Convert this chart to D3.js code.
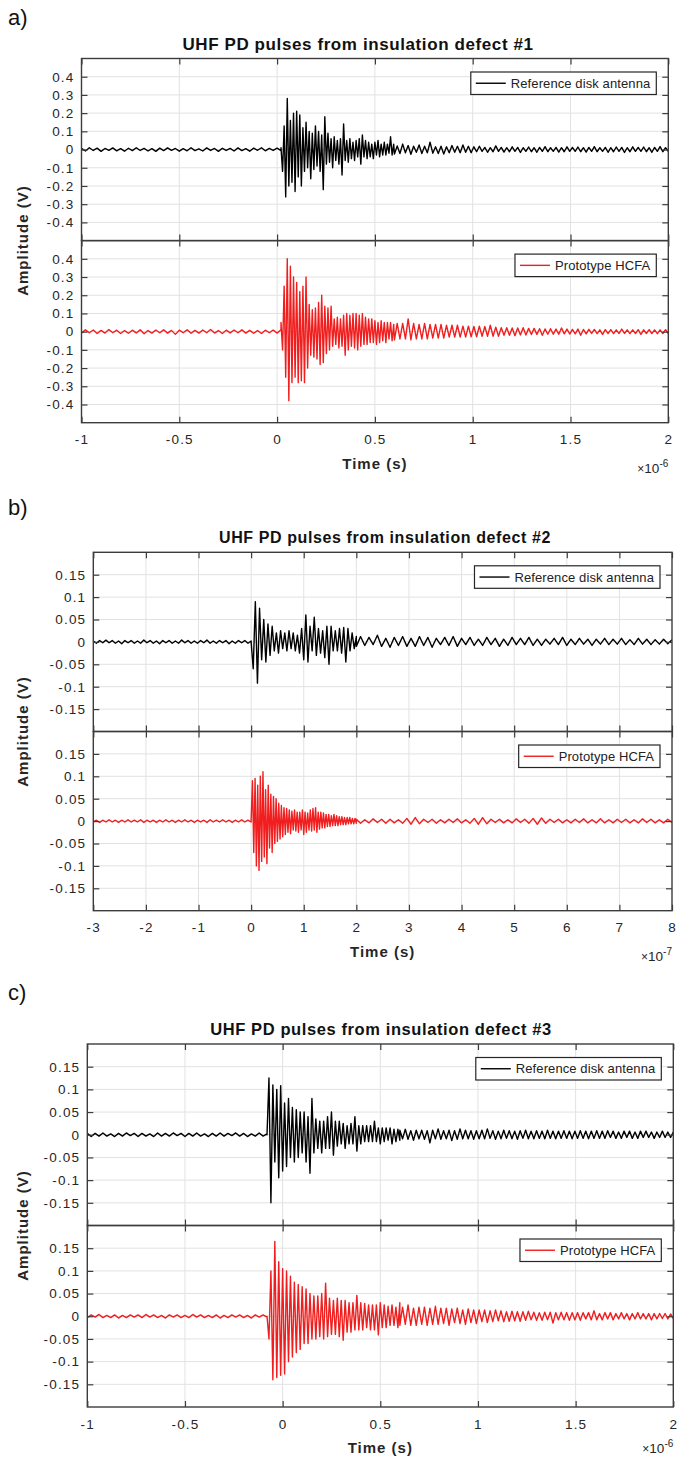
<!DOCTYPE html>
<html lang="en">
<head>
<meta charset="UTF-8">
<script src="https://d3js.org/d3.v7.min.js"></script>
<title>UHF PD pulses from insulation defects</title>
<style>
  body { margin: 0; background: #fff; }
  svg { display: block; }
  text { font-family: "Liberation Sans", Arial, Helvetica, sans-serif; }
</style>
</head>
<body>
<script>
// ---------- tick values ----------
const aTicksX = [-1, -0.5, 0, 0.5, 1, 1.5, 2];          // x 1e-6 s
const aTicksY = [-0.4, -0.3, -0.2, -0.1, 0, 0.1, 0.2, 0.3, 0.4];
const bTicksX = [-3, -2, -1, 0, 1, 2, 3, 4, 5, 6, 7, 8]; // x 1e-7 s
const bTicksY = [-0.15, -0.1, -0.05, 0, 0.05, 0.1, 0.15];
const cTicksX = [-1, -0.5, 0, 0.5, 1, 1.5, 2];          // x 1e-6 s
const cTicksY = [-0.15, -0.1, -0.05, 0, 0.05, 0.1, 0.15];

// ---------- sampling of each record: start time and step of the three parts (noise, burst, tail) ----------
const aStart = [-1, 0.02, 0.6], aStep = [0.02, 0.008, 0.014];
const bStart = [-3, 0, 2], bRefStep = [0.06, 0.04, 0.08], bHcfaStep = [0.06, 0.025, 0.08];
const cStart = [-1, -0.08, 0.6], cStep = [0.02, 0.01, 0.014];

// ---------- defect #1 (V) ----------
const ref1Noise = [0.006,-0.008,0.01,-0.005,0.008,-0.01,0.006,-0.004,0.009,-0.007,
  0.005,-0.009,0.007,-0.006,0.01,-0.005,0.006,-0.008,0.005,-0.01,
  0.008,-0.006,0.009,-0.004,0.006,-0.009,0.005,-0.007,0.01,-0.006,
  0.004,-0.008,0.009,-0.005,0.006,-0.01,0.007,-0.005,0.006,-0.008,
  0.009,-0.006,0.005,-0.009,0.008,-0.004,0.01,-0.007,0.006,-0.005,
  0.008,-0.006];
const ref1Burst = [0.01,-0.12,0.13,-0.26,0.28,-0.2,0.16,-0.18,0.2,-0.23,
  0.21,-0.15,0.19,-0.2,0.12,-0.12,0.15,-0.1,0.1,-0.16,
  0.09,-0.11,0.13,-0.09,0.1,-0.12,0.08,-0.22,0.18,-0.08,
  0.09,-0.07,0.06,-0.1,0.07,-0.06,0.05,-0.08,0.06,-0.14,
  0.14,-0.06,0.05,-0.07,0.06,-0.05,0.04,-0.06,0.05,-0.04,
  0.06,-0.08,0.08,-0.04,0.05,-0.05,0.04,-0.04,0.03,-0.05,
  0.04,-0.03,0.05,-0.04,0.03,-0.03,0.04,-0.03,0.03,-0.02,
  0.07,-0.03,0.03];
const ref1Tail = [-0.025,0.02,-0.022,0.03,-0.018,0.022,-0.026,0.018,-0.015,0.025,
  -0.022,0.018,-0.018,0.04,-0.02,0.015,-0.022,0.018,-0.025,0.015,
  -0.018,0.022,-0.015,0.018,-0.018,0.025,-0.015,0.018,-0.018,
  0.015,-0.012,0.018,-0.01,0.012,-0.015,0.01,-0.012,0.02,-0.01,
  0.012,-0.014,0.01,-0.012,0.015,-0.01,0.012,-0.016,0.01,-0.01,
  0.014,-0.012,0.01,-0.015,0.012,-0.01,0.016,-0.012,0.01,-0.01,
  0.012,-0.014,0.01,-0.012,0.015,-0.01,0.012,-0.01,0.014,-0.012,
  0.01,-0.014,0.012,-0.01,0.016,-0.012,0.01,-0.01,0.012,-0.015,
  0.01,-0.012,0.014,-0.01,0.012,-0.016,0.01,-0.012,0.015,-0.01,
  0.012,-0.01,0.014,-0.012,0.01,-0.015,0.012,-0.01,0.016,-0.012,
  0.01,-0.01];
const hcfa1Noise = [-0.008,0.01,-0.006,0.009,-0.01,0.007,-0.008,0.012,-0.006,0.008,
  -0.01,0.006,-0.009,0.008,-0.007,0.01,-0.012,0.006,-0.008,0.009,
  -0.006,0.01,-0.008,0.007,-0.015,0.008,-0.006,0.01,-0.009,0.007,
  -0.008,0.009,-0.006,0.012,-0.008,0.006,-0.01,0.008,-0.007,0.009,
  -0.006,0.01,-0.008,0.007,-0.009,0.006,-0.01,0.008,-0.006,0.009,
  -0.008,0.01];
const hcfa1Burst = [0.05,-0.1,0.25,-0.25,0.4,-0.38,0.36,-0.28,0.3,-0.25,
  0.27,-0.28,0.22,-0.27,0.25,-0.28,0.3,-0.2,0.15,-0.13,
  0.12,-0.14,0.13,-0.15,0.16,-0.18,0.2,-0.17,0.14,-0.12,
  0.13,-0.1,0.14,-0.08,0.07,-0.07,0.08,-0.09,0.07,-0.08,
  0.09,-0.13,0.1,-0.1,0.09,-0.08,0.1,-0.09,0.1,-0.1,
  0.09,-0.08,0.1,-0.07,0.08,-0.07,0.07,-0.06,0.07,-0.06,
  0.06,-0.07,0.05,-0.06,0.06,-0.05,0.05,-0.06,0.05,-0.04,
  0.05,-0.05,0.04];
const hcfa1Tail = [-0.045,0.045,-0.04,0.045,-0.04,0.07,-0.045,0.045,-0.04,0.04,
  -0.04,0.045,-0.04,0.04,-0.035,0.04,-0.035,0.04,-0.035,0.035,
  -0.03,0.035,-0.03,0.035,-0.03,0.03,-0.03,0.03,-0.028,0.028,
  -0.028,0.03,-0.025,0.028,-0.025,0.035,-0.025,0.025,-0.025,0.022,
  -0.02,0.022,-0.02,0.02,-0.022,0.02,-0.018,0.022,-0.018,0.018,
  -0.016,0.018,-0.015,0.016,-0.02,0.015,-0.014,0.016,-0.014,0.014,
  -0.014,0.02,-0.012,0.014,-0.013,0.012,-0.012,0.014,-0.02,0.012,
  -0.012,0.013,-0.01,0.012,-0.011,0.01,-0.015,0.011,-0.01,0.011,
  -0.011,0.01,-0.01,0.014,-0.01,0.01,-0.011,0.01,-0.01,0.011,
  -0.015,0.01,-0.01,0.011,-0.01,0.01,-0.011,0.01,-0.01,0.011,
  -0.01];

// ---------- defect #2 (V) ----------
const ref2Noise = [0.002,-0.003,0.003,-0.002,0.004,-0.002,0.003,-0.003,0.002,-0.004,
  0.003,-0.002,0.003,-0.003,0.002,-0.003,0.004,-0.002,0.003,-0.003,
  0.002,-0.004,0.003,-0.002,0.003,-0.003,0.002,-0.003,0.004,-0.002,
  0.003,-0.003,0.002,-0.003,0.003,-0.002,0.004,-0.003,0.002,-0.003,
  0.003,-0.002,0.003,-0.004,0.002,-0.003,0.003,-0.002,0.003,-0.003,
  0.002];
const ref2Burst = [0,-0.06,0.09,-0.092,0.075,-0.04,0.05,-0.045,0.04,-0.03,
  0.035,-0.02,0.02,-0.025,0.025,-0.015,0.02,-0.02,0.025,-0.015,
  0.02,-0.02,0.015,-0.025,0.03,-0.04,0.06,-0.045,0.035,-0.02,
  0.055,-0.03,0.03,-0.025,0.025,-0.035,0.035,-0.05,0.035,-0.02,
  0.025,-0.02,0.03,-0.025,0.032,-0.045,0.03,-0.02,0.02,-0.015,
  0.012];
const ref2Tail = [-0.01,0.012,-0.008,0.01,-0.006,0.015,-0.01,0.008,-0.012,0.01,
  -0.008,0.012,-0.01,0.008,-0.01,0.012,-0.008,0.01,-0.012,0.008,
  -0.006,0.01,-0.008,0.012,-0.01,0.008,-0.006,0.01,-0.008,0.006,
  -0.008,0.01,-0.006,0.008,-0.01,0.006,-0.008,0.01,-0.006,0.008,
  -0.006,0.01,-0.008,0.006,-0.008,0.006,-0.005,0.008,-0.006,0.01,
  -0.008,0.006,-0.006,0.008,-0.005,0.006,-0.008,0.006,-0.005,0.008,
  -0.006,0.006,-0.005,0.008,-0.006,0.005,-0.006,0.008,-0.005,0.006,
  -0.006,0.005,-0.005,0.006,-0.004,0.005];
const hcfa2Noise = [-0.002,0.002,-0.003,0.002,-0.002,0.003,-0.002,0.002,-0.003,0.002,
  -0.002,0.003,-0.002,0.002,-0.002,0.003,-0.003,0.002,-0.002,0.002,
  -0.003,0.002,-0.002,0.003,-0.002,0.002,-0.003,0.002,-0.002,0.003,
  -0.002,0.002,-0.003,0.002,-0.002,0.002,-0.003,0.003,-0.002,0.002,
  -0.002,0.003,-0.002,0.002,-0.003,0.002,-0.002,0.003,-0.002,0.002,
  -0.002];
const hcfa2Burst = [0,0.09,-0.07,0.095,-0.1,0.08,-0.11,0.1,-0.09,0.11,
  -0.08,0.07,-0.095,0.08,-0.06,0.06,-0.07,0.055,-0.05,0.05,
  -0.045,0.04,-0.04,0.035,-0.035,0.03,-0.03,0.028,-0.025,0.025,
  -0.028,0.022,-0.02,0.025,-0.022,0.02,-0.025,0.02,-0.02,0.025,
  -0.03,0.02,-0.025,0.018,-0.02,0.025,-0.022,0.028,-0.02,0.03,
  -0.025,0.02,-0.018,0.02,-0.015,0.018,-0.015,0.015,-0.012,0.015,
  -0.012,0.012,-0.01,0.015,-0.01,0.012,-0.01,0.01,-0.008,0.01,
  -0.008,0.008,-0.008,0.008,-0.006,0.008,-0.006,0.006,-0.006,0.006,
  -0.005];
const hcfa2Tail = [0.004,-0.005,0.003,-0.004,0.005,-0.003,0.004,-0.005,0.004,-0.004,
  0.003,-0.005,0.006,-0.007,0.008,-0.006,0.004,-0.003,0.004,-0.005,
  0.003,-0.004,0.004,-0.003,0.005,-0.004,0.003,-0.005,0.006,-0.007,
  0.008,-0.006,0.004,-0.003,0.004,-0.004,0.003,-0.004,0.005,-0.003,
  0.004,-0.005,0.006,-0.007,0.007,-0.005,0.004,-0.003,0.004,-0.004,
  0.003,-0.004,0.004,-0.003,0.005,-0.004,0.003,-0.004,0.005,-0.004,
  0.003,-0.004,0.004,-0.003,0.004,-0.004,0.003,-0.004,0.005,-0.003,
  0.004,-0.004,0.003,-0.004,0.004,-0.003];

// ---------- defect #3 (V) ----------
const ref3Noise = [0.003,-0.004,0.003,-0.003,0.004,-0.003,0.002,-0.004,0.003,-0.003,
  0.004,-0.002,0.003,-0.004,0.003,-0.003,0.002,-0.004,0.004,-0.003,
  0.003,-0.003,0.004,-0.002,0.003,-0.004,0.003,-0.003,0.004,-0.003,
  0.002,-0.004,0.003,-0.003,0.004,-0.003,0.003,-0.002,0.004,-0.003,
  0.003,-0.004,0.002,-0.003,0.004,-0.003,0.002];
const ref3Burst = [0,0.125,-0.15,0.11,-0.06,0.1,-0.095,0.108,-0.08,0.07,
  -0.07,0.08,-0.05,0.06,-0.06,0.055,-0.05,0.05,-0.04,0.05,
  -0.06,0.04,-0.085,0.08,-0.04,0.035,-0.03,0.03,-0.04,0.03,
  -0.03,0.04,-0.03,0.05,-0.045,0.03,-0.025,0.03,-0.02,0.025,
  -0.03,0.02,-0.02,0.025,-0.02,0.04,-0.036,0.02,-0.02,0.02,
  -0.015,0.02,-0.015,0.02,-0.015,0.03,-0.015,0.015,-0.02,0.015,
  -0.015,0.015,-0.012,0.015,-0.02,0.012,-0.015,0.012,-0.012];
const ref3Tail = [0.01,-0.009,0.012,-0.01,0.009,-0.012,0.01,-0.009,0.01,-0.01,
  0.009,-0.018,0.01,-0.009,0.013,-0.01,0.009,-0.009,0.01,-0.013,
  0.009,-0.01,0.013,-0.009,0.01,-0.009,0.009,-0.01,0.009,-0.009,
  0.01,-0.009,0.013,-0.008,0.009,-0.01,0.008,-0.009,0.01,-0.008,
  0.009,-0.009,0.008,-0.01,0.009,-0.008,0.01,-0.009,0.008,-0.009,
  0.009,-0.008,0.008,-0.009,0.01,-0.008,0.008,-0.009,0.008,-0.008,
  0.009,-0.008,0.008,-0.009,0.008,-0.008,0.009,-0.008,0.008,-0.009,
  0.008,-0.008,0.009,-0.008,0.008,-0.008,0.009,-0.006,0.008,-0.008,
  0.006,-0.008,0.008,-0.006,0.008,-0.008,0.006,-0.008,0.008,-0.006,
  0.008,-0.006,0.006,-0.008,0.006,-0.006,0.008,-0.006,0.006,-0.006,
  0.006];
const hcfa3Noise = [-0.003,0.003,-0.002,0.004,-0.003,0.002,-0.003,0.003,-0.004,0.002,
  -0.003,0.003,-0.002,0.003,-0.003,0.004,-0.002,0.003,-0.003,0.002,
  -0.004,0.003,-0.002,0.003,-0.003,0.002,-0.003,0.004,-0.002,0.003,
  -0.003,0.002,-0.003,0.003,-0.004,0.002,-0.003,0.003,-0.002,0.003,
  -0.003,0.002,-0.004,0.003,-0.002,0.003,-0.002];
const hcfa3Burst = [0,-0.05,0.1,-0.14,0.165,-0.135,0.12,-0.13,0.105,-0.127,
  0.1,-0.1,0.088,-0.09,0.075,-0.08,0.07,-0.073,0.065,-0.06,
  0.06,-0.06,0.05,-0.05,0.045,-0.05,0.045,-0.045,0.05,-0.05,
  0.073,-0.045,0.04,-0.04,0.035,-0.04,0.04,-0.045,0.035,-0.053,
  0.035,-0.035,0.03,-0.035,0.03,-0.03,0.046,-0.03,0.03,-0.03,
  0.028,-0.025,0.025,-0.03,0.025,-0.03,0.025,-0.041,0.03,-0.025,
  0.025,-0.025,0.022,-0.02,0.025,-0.02,0.02,-0.025,0.03];
const hcfa3Tail = [-0.02,0.02,-0.018,0.025,-0.02,0.018,-0.02,0.02,-0.018,0.02,
  -0.02,0.018,-0.018,0.022,-0.018,0.018,-0.016,0.018,-0.02,0.016,
  -0.014,0.018,-0.016,0.014,-0.018,0.016,-0.014,0.014,-0.016,0.014,
  -0.012,0.014,-0.014,0.012,-0.012,0.014,-0.01,0.012,-0.012,0.01,
  -0.011,0.011,-0.01,0.01,-0.011,0.01,-0.009,0.011,-0.008,0.009,
  -0.009,0.008,-0.009,0.009,-0.008,0.009,-0.015,0.008,-0.008,0.009,
  -0.008,0.008,-0.009,0.008,-0.008,0.008,-0.009,0.008,-0.006,0.008,
  -0.008,0.012,-0.008,0.006,-0.008,0.008,-0.006,0.008,-0.008,0.006,
  -0.006,0.008,-0.006,0.006,-0.008,0.006,-0.006,0.008,-0.006,0.006,
  -0.006,0.006,-0.008,0.006,-0.006,0.006,-0.005,0.006,-0.006,0.005,
  -0.005];

const seriesNames = ["Reference disk antenna", "Prototype HCFA"];

// join the parts of one record into {t, v} samples
function series(starts, steps, parts) {
    const out = [];
    parts.forEach((vals, k) => {
        vals.forEach((v, i) => out.push({ t: starts[k] + i * steps[k], v: v }));
    });
    return out;
}

const RED = "#f01e1e";
const AXIS = "#3c3c3c";
const GRID = "#e2e2e2";
const TICK = 6;

const figures = [
    { tag: "a)", tagY: 25, title: "UHF PD pulses from insulation defect #1", titleX: 358, titleSize: 17,
      left: 81.5, right: 668.3, top: 58.5, bottom: 422.7, yMax: 0.5, expY: 50,
      xDomain: [-1, 2], xTicks: aTicksX, yTicks: aTicksY, exponent: "-6",
      ref: series(aStart, aStep, [ref1Noise, ref1Burst, ref1Tail]),
      hcfa: series(aStart, aStep, [hcfa1Noise, hcfa1Burst, hcfa1Tail]) },
    { tag: "b)", tagY: 515, title: "UHF PD pulses from insulation defect #2", titleX: 385, titleSize: 16,
      left: 93.3, right: 672, top: 552.3, bottom: 910.7, yMax: 0.2, expY: 50,
      xDomain: [-3, 8], xTicks: bTicksX, yTicks: bTicksY, exponent: "-7",
      ref: series(bStart, bRefStep, [ref2Noise, ref2Burst, ref2Tail]),
      hcfa: series(bStart, bHcfaStep, [hcfa2Noise, hcfa2Burst, hcfa2Tail]) },
    { tag: "c)", tagY: 1000, title: "UHF PD pulses from insulation defect #3", titleX: 381, titleSize: 16.5,
      left: 87.3, right: 673.3, top: 1044, bottom: 1407, yMax: 0.2, expY: 46,
      xDomain: [-1, 2], xTicks: cTicksX, yTicks: cTicksY, exponent: "-6",
      ref: series(cStart, cStep, [ref3Noise, ref3Burst, ref3Tail]),
      hcfa: series(cStart, cStep, [hcfa3Noise, hcfa3Burst, hcfa3Tail]) }
];

const svg = d3.select("body").append("svg")
    .attr("width", 677)
    .attr("height", 1457);

function styleAxis(sel, showLabels) {
    sel.select(".domain").remove();
    sel.selectAll(".tick line").attr("stroke", AXIS).attr("stroke-width", 1.2);
    sel.attr("font-family", "'Liberation Sans', Arial, sans-serif")
        .attr("font-size", 13.5)
        .style("color", "#262626");
    sel.selectAll(".tick text").style("letter-spacing", "1.2px");
    if (!showLabels) sel.selectAll(".tick text").remove();
}

function drawFigure(f, idx) {
    const g = svg.append("g");
    const x = d3.scaleLinear().domain(f.xDomain).range([f.left, f.right]);
    const mid = (f.top + f.bottom) / 2;
    const panels = [
        { y0: f.top, y1: mid, data: f.ref, color: "#000" },
        { y0: mid, y1: f.bottom, data: f.hcfa, color: RED }
    ];

    panels.forEach((p, k) => {
        const y = d3.scaleLinear().domain([-f.yMax, f.yMax]).range([p.y1, p.y0]);
        const clipId = "clip" + idx + "_" + k;
        g.append("clipPath").attr("id", clipId).append("rect")
            .attr("x", f.left).attr("y", p.y0)
            .attr("width", f.right - f.left).attr("height", p.y1 - p.y0);

        // grid
        g.append("g").selectAll("line").data(f.xTicks.slice(1, -1)).join("line")
            .attr("x1", d => x(d)).attr("x2", d => x(d))
            .attr("y1", p.y0).attr("y2", p.y1)
            .attr("stroke", GRID).attr("stroke-width", 1);
        g.append("g").selectAll("line").data(f.yTicks).join("line")
            .attr("x1", f.left).attr("x2", f.right)
            .attr("y1", d => y(d)).attr("y2", d => y(d))
            .attr("stroke", GRID).attr("stroke-width", 1);

        // signal
        g.append("path").datum(p.data)
            .attr("clip-path", "url(#" + clipId + ")")
            .attr("fill", "none")
            .attr("stroke", p.color)
            .attr("stroke-width", 1.4)
            .attr("stroke-linejoin", "round")
            .attr("d", d3.line().x(d => x(d.t)).y(d => y(d.v)));

        // inward ticks on all four sides
        g.append("g").attr("transform", "translate(" + f.left + ",0)")
            .call(d3.axisLeft(y).tickValues(f.yTicks).tickSize(-TICK).tickPadding(7).tickFormat(d => String(d)))
            .call(s => styleAxis(s, true));
        g.append("g").attr("transform", "translate(" + f.right + ",0)")
            .call(d3.axisRight(y).tickValues(f.yTicks).tickSize(-TICK))
            .call(s => styleAxis(s, false));
        g.append("g").attr("transform", "translate(0," + p.y0 + ")")
            .call(d3.axisTop(x).tickValues(f.xTicks).tickSize(-TICK))
            .call(s => styleAxis(s, false));
        g.append("g").attr("transform", "translate(0," + p.y1 + ")")
            .call(d3.axisBottom(x).tickValues(f.xTicks).tickSize(-TICK).tickPadding(12).tickFormat(d => String(d)))
            .call(s => styleAxis(s, k === 1));

        // box
        g.append("rect")
            .attr("x", f.left).attr("y", p.y0)
            .attr("width", f.right - f.left).attr("height", p.y1 - p.y0)
            .attr("fill", "none").attr("stroke", AXIS).attr("stroke-width", 1.4);

        // legend
        const lg = g.append("g");
        const boxT = p.y0 + 13.5, boxH = 22.5;
        const txt = lg.append("text")
            .attr("font-size", 13)
            .style("letter-spacing", "0.1px")
            .attr("fill", "#222")
            .attr("y", boxT + boxH / 2)
            .attr("dy", "0.36em")
            .text(seriesNames[k]);
        const tw = txt.node().getComputedTextLength();
        const boxW = 5 + 30 + 5 + tw + 6;
        const boxL = f.right - 12 - boxW;
        lg.insert("rect", "text")
            .attr("x", boxL).attr("y", boxT)
            .attr("width", boxW).attr("height", boxH)
            .attr("fill", "#fff").attr("stroke", "#262626").attr("stroke-width", 1.2);
        lg.insert("line", "text")
            .attr("x1", boxL + 5).attr("x2", boxL + 35)
            .attr("y1", boxT + boxH / 2).attr("y2", boxT + boxH / 2)
            .attr("stroke", p.color).attr("stroke-width", 1.4);
        txt.attr("x", boxL + 40);
    });

    // title
    g.append("text")
        .attr("x", f.titleX).attr("y", f.top - 9)
        .attr("text-anchor", "middle")
        .attr("font-size", f.titleSize).attr("font-weight", "bold")
        .style("letter-spacing", "0.6px")
        .attr("fill", "#111")
        .text(f.title);

    // axis labels
    g.append("text")
        .attr("transform", "translate(22.5," + mid + ") rotate(-90)")
        .attr("text-anchor", "middle").attr("dy", "0.35em")
        .attr("font-size", 15).attr("font-weight", "bold")
        .style("letter-spacing", "1px")
        .attr("fill", "#262626")
        .text("Amplitude (V)");
    g.append("text")
        .attr("x", (f.left + f.right) / 2).attr("y", f.bottom + 46)
        .attr("text-anchor", "middle")
        .attr("font-size", 15).attr("font-weight", "bold")
        .style("letter-spacing", "1px")
        .attr("fill", "#262626")
        .text("Time (s)");

    // exponent
    const ex = g.append("text")
        .attr("x", f.right).attr("y", f.bottom + f.expY)
        .attr("text-anchor", "end")
        .attr("fill", "#262626");
    ex.append("tspan").attr("font-size", 12).text("\u00d7");
    ex.append("tspan").attr("font-size", 13.5).text("10");
    ex.append("tspan").attr("font-size", 10).attr("dy", -6).text(f.exponent);

    // panel tag
    svg.append("text")
        .attr("x", 8).attr("y", f.tagY)
        .attr("font-family", "'Liberation Serif', 'Times New Roman', serif")
        .attr("font-size", 22)
        .attr("fill", "#111")
        .text(f.tag);
}

figures.forEach(drawFigure);
</script>
</body>
</html>
